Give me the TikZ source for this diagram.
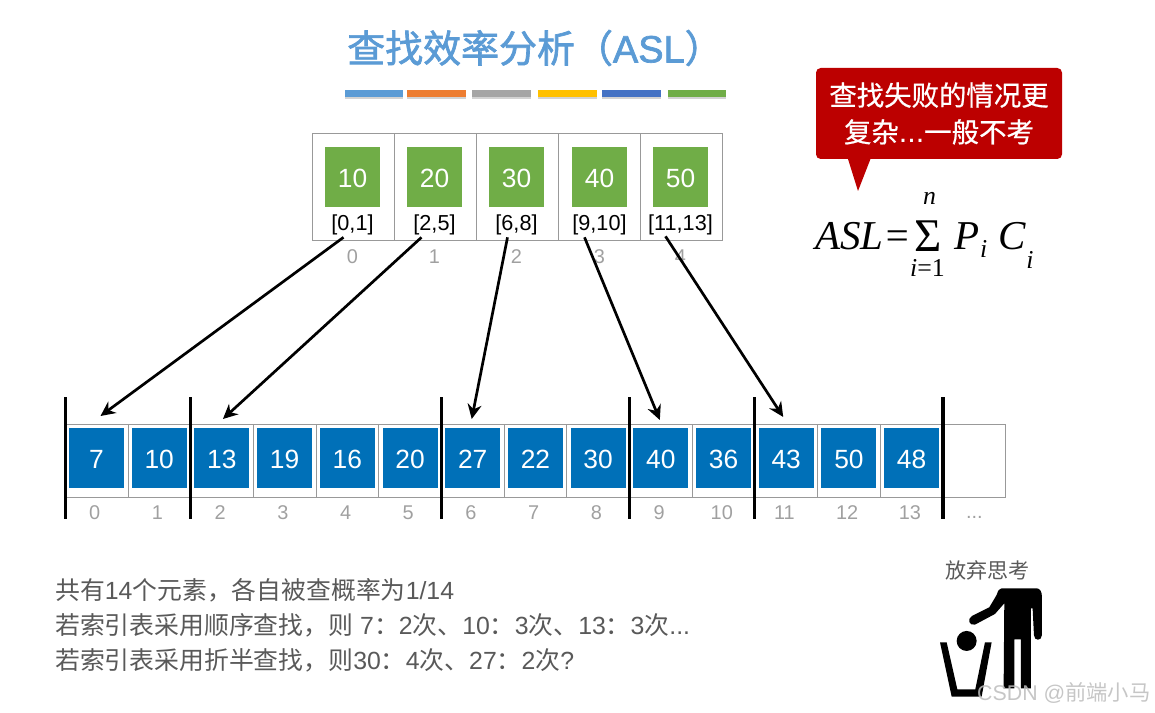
\documentclass[tikz,border=0pt]{standalone}
\usepackage{fontspec}
\usepackage{xcolor}
\setmainfont{Liberation Sans}
\newfontfamily\cjk{Noto Sans CJK SC}
\newfontfamily\cjkhead[FakeBold=1.8]{Noto Sans CJK SC}
\newfontfamily\cjknote[FakeBold=0.6]{Noto Sans CJK SC}
\newfontfamily\headfont[FakeBold=1.8]{Liberation Sans}
\newfontfamily\formfont{Liberation Serif}
\newcommand{\zh}[1]{{\cjk #1}}
\newcommand{\fsz}[1]{\fontsize{#1}{#1}\selectfont}
\usetikzlibrary{positioning,arrows.meta,calc,backgrounds,shadows}
\definecolor{cTitle}{HTML}{5B9BD5}
\definecolor{cOrange}{HTML}{ED7D31}
\definecolor{cSilver}{HTML}{A5A5A5}
\definecolor{cGold}{HTML}{FFC000}
\definecolor{cIndigo}{HTML}{4472C4}
\definecolor{cGreen}{HTML}{70AD47}
\definecolor{cBlue}{HTML}{0070B8}
\definecolor{cRed}{HTML}{BC0000}
\definecolor{cText}{HTML}{595959}
\definecolor{cIdx}{HTML}{A0A0A0}
\definecolor{cLine}{HTML}{999999}
\tikzset{
  >={Stealth[length=4.4mm,width=4.2mm]},
  sbox/.style={inner sep=0pt,outer sep=0pt,minimum width=1.65cm,minimum height=1.8cm,text=white,
               text height=18.4pt,font=\fsz{22.5}},
  gbox/.style={sbox,fill=cGreen},
  bbox/.style={sbox,fill=cBlue},
  gcell/.style={draw=cLine,line width=0.6pt,inner sep=0pt,outer sep=0pt,minimum width=2.46cm,minimum height=3.21cm},
  bcell/.style={draw=cLine,line width=0.6pt,inner sep=0pt,outer sep=0pt,minimum width=1.881cm,minimum height=2.19cm},
  rng/.style={inner sep=0pt,font=\fsz{18.5},text=black},
  idx/.style={inner sep=0pt,font=\fsz{17},text=cIdx},
  bar/.style={inner sep=0pt,outer sep=0pt,minimum height=0.21cm,drop shadow={shadow xshift=0pt,shadow yshift=-1.4pt,opacity=0.35}},
  sar/.style={->,line width=2.3pt,black},
  sep/.style={line width=2.6pt,black},
  form/.style={inner sep=0pt,anchor=base west,font=\formfont\itshape\fsz{35}},
  formsm/.style={inner sep=0pt,anchor=base west,font=\formfont\itshape\fsz{22}},
}
\begin{document}
\begin{tikzpicture}[x=0.03cm,y=-0.03cm]
  \useasboundingbox (0,0) rectangle (1155,713);
  % title
  \node[inner sep=0pt,anchor=west,text=cTitle,font=\headfont\fsz{32.4}] (title) at (347,48) {{\cjkhead 查找效率分析（}ASL{\cjkhead ）}};
  \foreach \x/\w/\c [count=\i] in {345/58/cTitle,407/59/cOrange,472/59/cSilver,538/59/cGold,602/59/cIndigo,668/58/cGreen}
    \node[bar,anchor=west,fill=\c,minimum width=\w*0.03cm] (bar\i) at (\x,93.5) {};
  % index table
  \foreach \x/\v/\r [count=\i from 0] in {352.5/10/{[0,1]},434.5/20/{[2,5]},516.5/30/{[6,8]},599.5/40/{[9,10]},680.5/50/{[11,13]}}{
    \node[gbox] (g\i) at (\x,177) {\v};
    \node[rng] (r\i) at (\x,225) {\r};
    \node[idx] (gi\i) at (\x,257) {\i};
  }
  \begin{scope}[on background layer]
    \foreach \x [count=\i from 0] in {353,435,517,599,681}
      \node[gcell] (gc\i) at (\x,186.5) {};
  \end{scope}
  % blocks
  \node[bbox] (b0) at (96.5,458) {7};
  \foreach \v [count=\i from 1,evaluate=\i as \p using int(\i-1)] in {10,13,19,16,20,27,22,30,40,36,43,50,48}
    \node[bbox,right=2.31mm of b\p] (b\i) {\v};
  \begin{scope}[on background layer]
    \foreach \i in {0,...,13}
      \node[bcell] (c\i) at ($(b\i)+(0,2.5)$) {};
    \node[bcell,right=0pt of c13] (c14) {};
  \end{scope}
  \foreach \i in {0,...,13}
    \node[idx,xshift=-1.5pt] (bi\i) at ($(b\i)+(0,55)$) {\i};
  \node[idx] (bi14) at ($(c14)+(0,57)$) {...};
  \foreach \i in {0,2,6,9,11,14}
    \draw[sep] (c\i.west |- 0,397) -- (c\i.west |- 0,519);
  % pointers
  \draw[sar] ($(r0.south)+(-9,2)$) -- ($(b0.north)+(4,-12)$);
  \draw[sar] ($(r1.south)+(-13,2)$) -- ($(b2.north)+(1,-9)$);
  \draw[sar] ($(r2.south)+(-9,2)$) -- ($(b6.north)+(-1,-9)$);
  \draw[sar] ($(r3.south)+(-15,2)$) -- ($(b9.north)+(-1,-8)$);
  \draw[sar] ($(r4.south)+(-15,1)$) -- ($(b11.north)+(-3,-11)$);
  % note and formula
  \node[fill=cRed,rounded corners=4pt,inner sep=0pt,minimum width=7.38cm,minimum height=2.73cm,
        align=center,text=white,font=\cjknote\fsz{23.4}] (note) at (939,113.5) {查找失败的情况更\\[8pt]复杂{\normalfont\fsz{26}...}一般不考};
  \coordinate (tip) at (858,191);
  \fill[cRed] ($(note.south west)+(32,-1)$) -- (tip) -- ($(note.south west)+(55,-1)$) -- cycle;
  \node[form] (asl) at (815,250) {ASL=};
  \node[form,font=\formfont\fsz{40}] (sigma) at (914,252) {Σ};
  \node[formsm] (upn) at (923,205) {n};
  \node[formsm] (low) at (910,277) {i{\upshape =1}};
  \node[form] (pp) at (954,250) {P};
  \node[formsm] (pi) at (980,258) {i};
  \node[form] (cc) at (998,250) {C};
  \node[formsm] (ci) at (1026,269) {i};
  % text
  \node[inner sep=0pt,anchor=north west,align=left,text=cText,font=\fsz{21.2}] (txt) at (55,578.5) {%
    \zh{共有}14\zh{个元素，各自被查概率为}1/14\\[8.7pt]
    \zh{若索引表采用顺序查找，则} 7\zh{：}2\zh{次、}10\zh{：}3\zh{次、}13\zh{：}3\zh{次}...\\[8.7pt]
    \zh{若索引表采用折半查找，则}30\zh{：}4\zh{次、}27\zh{：}2\zh{次}?};
  % give-up figure
  \node[inner sep=0pt,text=cText,font=\cjk\fsz{18}] (quit) at (987.5,570) {放弃思考};
  \begin{scope}[shift={(920,550)},x=0.01cm,y=-0.01cm]
    \fill[black] (245,115) -- (350,115) .. controls (360,115) and (366,125) .. (366,140)
      -- (366,255) .. controls (366,274) and (342,274) .. (342,255) -- (338,175)
      -- (333,175) -- (333,415) -- (303,415) -- (303,268) -- (283,268) -- (283,415) -- (251,415) -- (253,160)
      -- (225,192) -- (165,224) .. controls (148,228) and (140,208) .. (156,198)
      -- (208,172) -- (230,135) .. controls (234,122) and (238,115) .. (245,115) -- cycle;
    \fill[black] (140,273) circle (30);
    \fill[black] (60,277) -- (80,277) -- (112,418) -- (166,418) -- (195,277) -- (215,277) -- (185,440) -- (95,440) -- cycle;
  \end{scope}
  \node[inner sep=0pt,anchor=west,text=cIdx!70,opacity=0.85,font=\fsz{18.2}] (mark) at (977,693) {CSDN @\zh{前端小马}};
\end{tikzpicture}
\end{document}
